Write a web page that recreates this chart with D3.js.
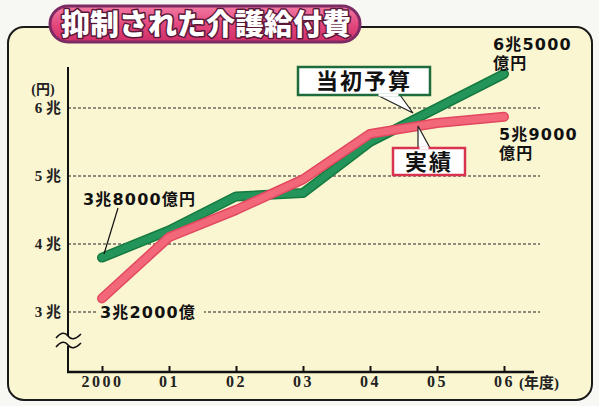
<!DOCTYPE html>
<html>
<head>
<meta charset="utf-8">
<script src="https://cdn.jsdelivr.net/npm/d3@7"></script>
<style>
  body { margin: 0; background: #f7f7f3; }
  svg { display: block; }
</style>
</head>
<body>
<svg id="chart" width="599" height="406"></svg>
<script>
// données (兆円)
const years = ["2000", "01", "02", "03", "04", "05", "06"];
const budget = [3.8, 4.2, 4.7, 4.75, 5.5, 6.0, 6.5];   // 当初予算
const actual = [3.2, 4.1, 4.5, 4.95, 5.62, 5.78, 5.87]; // 実績
const yTicks = [3, 4, 5, 6];
const yTickLabels = ["3 兆", "4 兆", "5 兆", "6 兆"];

const svg = d3.select("#chart");
const sans = "'Noto Sans CJK JP', 'Noto Sans', sans-serif";
const heavy = "'DejaVu Sans', 'Noto Sans CJK JP', sans-serif";
const serif = "'Liberation Serif', 'DejaVu Serif', 'Noto Sans CJK JP', serif";

const defs = svg.append("defs");
const grad = defs.append("linearGradient").attr("id", "pill").attr("x1", 0).attr("y1", 0).attr("x2", 0).attr("y2", 1);
grad.append("stop").attr("offset", "0%").attr("stop-color", "#f27aa3");
grad.append("stop").attr("offset", "55%").attr("stop-color", "#e2457c");
grad.append("stop").attr("offset", "100%").attr("stop-color", "#cf2f68");

// panneau
svg.append("rect")
  .attr("x", 8).attr("y", 27).attr("width", 584).attr("height", 373)
  .attr("rx", 16)
  .attr("fill", "#fbf6d2")
  .attr("stroke", "#1a1a1a").attr("stroke-width", 2);

// titre
svg.append("rect")
  .attr("x", 50).attr("y", 6).attr("width", 310).attr("height", 36)
  .attr("rx", 18)
  .attr("fill", "url(#pill)")
  .attr("stroke", "#7c2a63").attr("stroke-width", 3);
svg.append("text")
  .attr("x", 206).attr("y", 35)
  .attr("text-anchor", "middle")
  .attr("font-family", sans).attr("font-weight", 900).attr("font-size", 29)
  .attr("fill", "#fff").attr("stroke", "#5a1838").attr("stroke-width", 3)
  .attr("paint-order", "stroke").attr("stroke-linejoin", "round")
  .text("抑制された介護給付費");

// échelles
const x = d3.scaleLinear().domain([0, years.length - 1]).range([102, 504]);
const y = d3.scaleLinear().domain([3, 6]).range([312, 108]);

// grille
svg.append("g").selectAll("line")
  .data(yTicks)
  .enter().append("line")
  .attr("x1", 68).attr("x2", 540)
  .attr("y1", d => y(d)).attr("y2", d => y(d))
  .attr("stroke", "#222").attr("stroke-width", 1.2)
  .attr("stroke-dasharray", "3,2");

// labels axe y
svg.append("g").selectAll("text")
  .data(yTicks)
  .enter().append("text")
  .attr("x", 61).attr("y", d => y(d) + 5)
  .attr("text-anchor", "end")
  .attr("font-family", serif).attr("font-weight", "bold").attr("font-size", 15)
  .attr("fill", "#222")
  .text((d, i) => yTickLabels[i]);
svg.append("text")
  .attr("x", 43).attr("y", 94)
  .attr("text-anchor", "middle")
  .attr("font-family", serif).attr("font-weight", "bold").attr("font-size", 14)
  .attr("fill", "#222")
  .text("(円)");

// axes
svg.append("line")
  .attr("x1", 68).attr("x2", 68).attr("y1", 67).attr("y2", 373)
  .attr("stroke", "#111").attr("stroke-width", 2);
svg.append("line")
  .attr("x1", 67).attr("x2", 534).attr("y1", 372).attr("y2", 372)
  .attr("stroke", "#111").attr("stroke-width", 2.5);

const xAxis = d3.axisBottom(x)
  .tickValues(d3.range(years.length))
  .tickSizeInner(-6).tickSizeOuter(0).tickPadding(4)
  .tickFormat(i => years[i]);
const gx = svg.append("g").attr("transform", "translate(0,372)").call(xAxis);
gx.select(".domain").remove();
gx.selectAll(".tick line").attr("stroke", "#111").attr("stroke-width", 2);
gx.selectAll(".tick text")
  .attr("font-family", serif).attr("font-weight", "bold").attr("font-size", 16)
  .attr("fill", "#222").attr("letter-spacing", 2.5);
svg.append("text")
  .attr("x", 519).attr("y", 388)
  .attr("font-family", serif).attr("font-weight", "bold").attr("font-size", 15)
  .attr("fill", "#222")
  .text("(年度)");

// coupure de l'axe
const brk = svg.append("g");
brk.append("rect").attr("x", 60).attr("y", 336).attr("width", 16).attr("height", 10).attr("fill", "#fbf6d2");
[336, 345].forEach(yy => {
  brk.append("path")
    .attr("d", `M56,${yy + 2} C61,${yy - 4} 65,${yy - 4} 68,${yy} S75,${yy + 4} 81,${yy - 2}`)
    .attr("fill", "none").attr("stroke", "#111").attr("stroke-width", 1.6);
});

// courbes
const line = d3.line().x((d, i) => x(i)).y(d => y(d));
function drawSeries(data, edge, fill) {
  svg.append("path").datum(data)
    .attr("d", line).attr("fill", "none")
    .attr("stroke", edge).attr("stroke-width", 10)
    .attr("stroke-linecap", "round").attr("stroke-linejoin", "round");
  svg.append("path").datum(data)
    .attr("d", line).attr("fill", "none")
    .attr("stroke", fill).attr("stroke-width", 7)
    .attr("stroke-linecap", "round").attr("stroke-linejoin", "round");
}
drawSeries(budget, "#157a3f", "#23955a");
drawSeries(actual, "#e2485f", "#f2687a");

// annotations
function label(lines, x0, y0) {
  const t = svg.append("text")
    .attr("font-family", heavy).attr("font-weight", "bold").attr("font-size", 16)
    .attr("letter-spacing", 1.2)
    .attr("fill", "#111");
  lines.forEach((s, i) => t.append("tspan").attr("x", x0).attr("y", y0 + i * 19).text(s));
  return t;
}
label(["6兆5000", "億円"], 493, 50);
label(["5兆9000", "億円"], 499, 140);
svg.append("line")
  .attr("x1", 118).attr("y1", 208).attr("x2", 104).attr("y2", 254)
  .attr("stroke", "#111").attr("stroke-width", 1.2);
label(["3兆8000億円"], 83, 205);
svg.append("rect").attr("x", 98).attr("y", 304).attr("width", 106).attr("height", 16).attr("fill", "#fbf6d2");
label(["3兆2000億"], 100, 318);

// étiquettes encadrées
function callout(text, box, tip, stroke) {
  const [bx, by, bw, bh] = box;
  svg.append("path")
    .attr("d", `M${tip[0]},${tip[1]} L${tip[2]},${tip[3]} L${tip[4]},${tip[5]} Z`)
    .attr("fill", "#fff").attr("stroke", "#222").attr("stroke-width", 1.2);
  svg.append("rect")
    .attr("x", bx).attr("y", by).attr("width", bw).attr("height", bh)
    .attr("fill", "#fff").attr("stroke", stroke).attr("stroke-width", 2.5);
  // masque du bord sous la pointe
  svg.append("line")
    .attr("x1", Math.min(tip[0], tip[4]) + 1.5).attr("x2", Math.max(tip[0], tip[4]) - 1.5)
    .attr("y1", tip[1]).attr("y2", tip[1])
    .attr("stroke", "#fff").attr("stroke-width", 3);
  svg.append("text")
    .attr("x", bx + bw / 2).attr("y", by + bh / 2 + 8)
    .attr("text-anchor", "middle")
    .attr("font-family", sans).attr("font-weight", "bold").attr("font-size", 22)
    .attr("fill", "#111").attr("letter-spacing", 2)
    .text(text);
}
callout("当初予算", [298, 67, 132, 28], [377, 95, 413, 113, 400, 95], "#1e6b3c");
callout("実績", [393, 148, 72, 27], [418, 148, 418, 126, 430, 148], "#d8344f");
</script>
</body>
</html>
